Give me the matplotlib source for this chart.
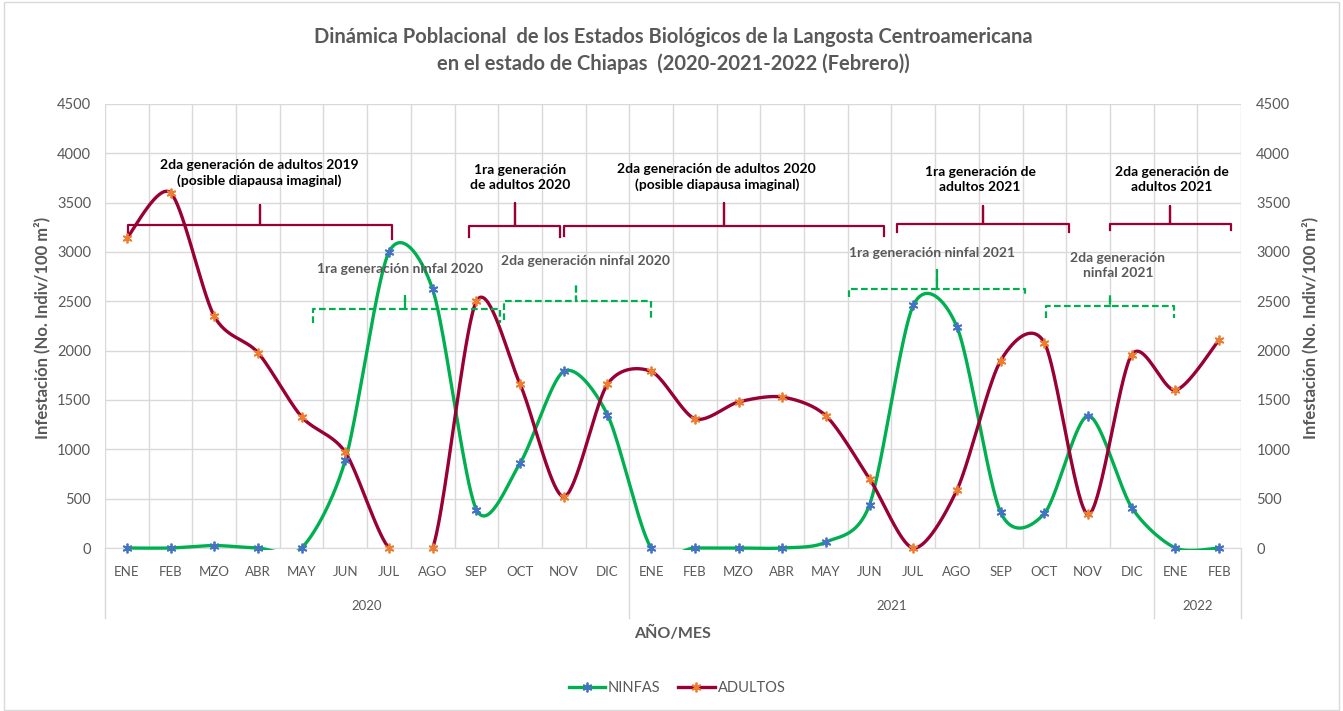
import numpy as np
import matplotlib
matplotlib.use("Agg")
import matplotlib.pyplot as plt
import matplotlib.transforms as mtransforms
from matplotlib.lines import Line2D
from matplotlib.patches import Rectangle

plt.rcParams['font.family'] = ['Lato', 'DejaVu Sans']

# datos
meses = ["ENE", "FEB", "MZO", "ABR", "MAY", "JUN", "JUL", "AGO", "SEP", "OCT", "NOV", "DIC",
         "ENE", "FEB", "MZO", "ABR", "MAY", "JUN", "JUL", "AGO", "SEP", "OCT", "NOV", "DIC",
         "ENE", "FEB"]
anios = ["2020", "2021", "2022"]
meses_por_anio = [12, 12, 2]

ninfas = [0, 0, 25, 0, 0, 890, 3000, 2620, 390, 860, 1790, 1350,
          0, 0, 0, 0, 60, 440, 2460, 2240, 360, 350, 1340, 410,
          0, 0]
adultos = [3140, 3600, 2350, 1980, 1330, 970, 0, 0, 2500, 1660, 520, 1660,
           1790, 1310, 1480, 1530, 1340, 700, 0, 590, 1900, 2080, 340, 1960,
           1600, 2110]

# llaves: (x0, x1, xc, ybar, yend, ytip, texto, tx, ty)
llaves_adultos = [
    (0.02, 6.07, 3.04, 3270, 3130, 3480, "2da generación de adultos 2019\n(posible diapausa imaginal)", 3.04, 3800),
    (7.83, 9.91, 8.88, 3263, 3150, 3497, "1ra generación\nde adultos 2020", 9.0, 3755),
    (10.0, 17.33, 13.67, 3263, 3160, 3497, "2da generación de adultos 2020\n(posible diapausa imaginal)", 13.5, 3760),
    (17.63, 21.57, 19.6, 3284, 3200, 3466, "1ra generación de\nadultos 2021", 19.53, 3733),
    (22.5, 25.27, 23.88, 3284, 3220, 3466, "2da generación de\nadultos 2021", 23.92, 3733),
]
llaves_ninfas = [
    (4.26, 8.54, 6.36, 2422, 2280, 2564, "1ra generación ninfal 2020", 6.25, 2825),
    (8.63, 11.99, 10.29, 2503, 2311, 2676, "2da generación ninfal 2020", 10.49, 2912),
    (16.53, 20.56, 18.54, 2625, 2547, 2818, "1ra generación ninfal 2021", 18.43, 2990),
    (21.03, 23.96, 22.5, 2453, 2334, 2564, "2da generación\nninfal 2021", 22.68, 2863),
]

verde = "#00B050"
rojo = "#990033"
azul = "#4472C4"
naranja = "#ED7D31"
gris = "#595959"
rejilla = "#D9D9D9"
estrella = (6, 2, 0)


def suavizar(y, n=40, k=0.14):
    # curva suavizada tipo Excel (bezier)
    y = np.asarray(y, float)
    x = np.arange(len(y), dtype=float)
    pts = np.column_stack([x, y])
    xs, ys = [], []
    t = np.linspace(0, 1, n)[:, None]
    for i in range(len(y) - 1):
        i0 = max(i - 1, 0)
        i3 = min(i + 2, len(y) - 1)
        p0, p1 = pts[i], pts[i + 1]
        c1 = p0 + (p1 - pts[i0]) * k
        c2 = p1 - (pts[i3] - p0) * k
        b = (1 - t) ** 3 * p0 + 3 * (1 - t) ** 2 * t * c1 + 3 * (1 - t) * t ** 2 * c2 + t ** 3 * p1
        xs.append(b[:, 0])
        ys.append(b[:, 1])
    return np.concatenate(xs), np.concatenate(ys)


def llave(ax, x0, x1, xc, ybar, yend, ytip, color, ls):
    ax.plot([x0, x0, xc, xc, xc, x1, x1], [yend, ybar, ybar, ytip, ybar, ybar, yend],
            color=color, lw=1.6, ls=ls, solid_joinstyle='round', zorder=4)


fig = plt.figure(figsize=(13.43, 7.11), dpi=100)
ax = fig.add_axes([105 / 1343, 1 - 548 / 711, (1241 - 105) / 1343, (548 - 104) / 711])

x = np.arange(len(meses))
ax.set_xlim(-0.5, len(meses) - 0.5)
ax.set_ylim(0, 4500)
ax.set_yticks(range(0, 4501, 500))
ax.set_xticks(x)
ax.set_xticklabels(meses, fontsize=9.5, color=gris)
ax.set_xticks(np.arange(-0.5, len(meses), 1), minor=True)
ax.tick_params(axis='x', which='both', length=0, pad=13)
ax.tick_params(axis='y', length=0, pad=10, labelsize=10.5, labelcolor=gris)
ax.grid(axis='y', color=rejilla, lw=1)
ax.grid(axis='x', which='minor', color=rejilla, lw=1)
ax.grid(axis='x', which='major', visible=False)
for s in ["top", "left", "right"]:
    ax.spines[s].set_visible(False)
ax.spines["bottom"].set_color(rejilla)
ax.set_axisbelow(True)

recorte = Rectangle((0, -0.005), 1, 1.005, transform=ax.transAxes, visible=False)
ax.add_patch(recorte)

for serie, col, mcol in [(ninfas, verde, azul), (adultos, rojo, naranja)]:
    xs, ys = suavizar(serie)
    ln, = ax.plot(xs, ys, color=col, lw=2.4, zorder=3, solid_capstyle='butt')
    ln.set_clip_path(recorte)
    ax.plot(x, serie, ls='none', marker=estrella, ms=7, mew=1.3, mec=mcol, mfc='none',
            zorder=5, clip_on=False)

for x0, x1, xc, yb, ye, yt, txt, tx, ty in llaves_adultos:
    llave(ax, x0, x1, xc, yb, ye, yt, rojo, '-')
    ax.text(tx, ty, txt, ha='center', va='center', fontsize=10, fontweight='bold',
            color='black', linespacing=1.3)
for x0, x1, xc, yb, ye, yt, txt, tx, ty in llaves_ninfas:
    llave(ax, x0, x1, xc, yb, ye, yt, verde, (0, (3, 1.5)))
    ax.text(tx, ty, txt, ha='center', va='center', fontsize=10, fontweight='bold',
            color=gris, linespacing=1.3)

# eje secundario
ax2 = ax.twinx()
ax2.set_ylim(0, 4500)
ax2.set_yticks(range(0, 4501, 500))
ax2.tick_params(axis='y', length=0, pad=11, labelsize=10.5, labelcolor=gris)
for s in ax2.spines.values():
    s.set_visible(False)

# años y separadores
trans = mtransforms.blended_transform_factory(ax.transData, ax.transAxes)
inicio = -0.5
ax.plot([inicio, inicio], [0, -0.158], transform=trans, color=rejilla, lw=1, clip_on=False)
for anio, n in zip(anios, meses_por_anio):
    fin = inicio + n
    ax.plot([fin, fin], [0, -0.158], transform=trans, color=rejilla, lw=1, clip_on=False)
    ax.text((inicio + fin) / 2, -0.131, anio, transform=trans, ha='center', va='center',
            fontsize=9.5, color=gris)
    inicio = fin

fig.text(673 / 1343, 1 - 633 / 711, "AÑO/MES", ha='center', va='center', fontsize=11.5,
         fontweight='bold', color=gris)
fig.text(42 / 1343, 1 - 328 / 711, "Infestación (No. Indiv/100 m²)", rotation=90,
         ha='center', va='center', fontsize=12, fontweight='bold', color=gris)
fig.text(1310 / 1343, 1 - 328 / 711, "Infestación (No. Indiv/100 m²)", rotation=90,
         ha='center', va='center', fontsize=12, fontweight='bold', color=gris)

fig.text(673 / 1343, 1 - 37 / 711,
         "Dinámica Poblacional  de los Estados Biológicos de la Langosta Centroamericana",
         ha='center', va='center', fontsize=14.5, fontweight='bold', color=gris)
fig.text(673 / 1343, 1 - 64 / 711, "en el estado de Chiapas  (2020-2021-2022 (Febrero))",
         ha='center', va='center', fontsize=14.5, fontweight='bold', color=gris)

handles = [
    Line2D([], [], color=verde, lw=2.4, marker=estrella, ms=7, mew=1.3, mec=azul, mfc='none'),
    Line2D([], [], color=rojo, lw=2.4, marker=estrella, ms=7, mew=1.3, mec=naranja, mfc='none'),
]
fig.legend(handles, ["NINFAS", "ADULTOS"], loc='center', bbox_to_anchor=(677 / 1343, 1 - 688 / 711),
           ncol=2, frameon=False, fontsize=10.5, labelcolor=gris, handlelength=2.5,
           handletextpad=0.2, columnspacing=1.2)

fig.add_artist(Rectangle((0.003, 0.002), 0.994, 0.995, transform=fig.transFigure,
                         fill=False, edgecolor=rejilla, lw=1))

fig.savefig("out.png", dpi=100)
